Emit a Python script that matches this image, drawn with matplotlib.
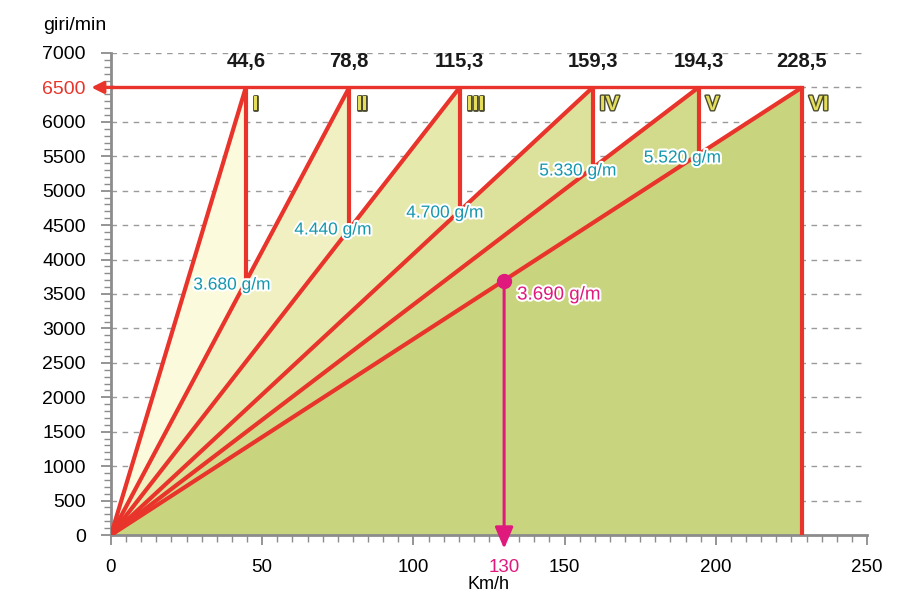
import matplotlib
matplotlib.use("Agg")
import matplotlib.pyplot as plt
import matplotlib.patheffects as pe
from matplotlib.ticker import MultipleLocator

# ---- data ----
gears = ["I", "II", "III", "IV", "V", "VI"]
shift_speed = [44.6, 78.8, 115.3, 159.3, 194.3, 228.5]   # km/h at 6500 rpm
speed_labels = ["44,6", "78,8", "115,3", "159,3", "194,3", "228,5"]
shift_rpm = 6500
drop_rpm = [3680, 4440, 4700, 5330, 5520]                 # rpm after upshift
drop_labels = ["3.680 g/m", "4.440 g/m", "4.700 g/m", "5.330 g/m", "5.520 g/m"]
example_speed = 130
example_rpm = 3690
example_label = "3.690 g/m"
x_ticks = [0, 50, 100, 130, 150, 200, 250]
y_ticks = list(range(0, 7001, 500))

band_colors = ["#fcfadc", "#f1f0c2", "#e6e9ac", "#dce29b", "#d2db8c", "#c8d57e"]
red = "#e8342a"
magenta = "#e0197d"
teal = "#1597ad"

plt.rcParams['font.family'] = ['Liberation Sans', 'DejaVu Sans']

fig = plt.figure(figsize=(9.17, 6.0), dpi=100)
ax = fig.add_axes([0.121, 0.1083, 0.8245, 0.8034])
ax.set_xlim(0, 250)
ax.set_ylim(0, 7000)

# bands
for i, v in enumerate(shift_speed):
    bottom = drop_rpm[i] if i < len(drop_rpm) else 0
    ax.fill([0, v, v], [0, shift_rpm, bottom], color=band_colors[i], lw=0, zorder=1)

# grid
for y in y_ticks[1:]:
    ax.plot([0, 250], [y, y], color="#9a9a9a", lw=1.0, ls=(0, (4, 4)), zorder=0.5)

# gear lines
lw = 3.0
for i, v in enumerate(shift_speed):
    ax.plot([0, v], [0, shift_rpm], color=red, lw=lw, zorder=3, solid_capstyle='butt')
    bottom = drop_rpm[i] if i < len(drop_rpm) else 0
    ax.plot([v, v], [shift_rpm, bottom], color=red, lw=lw, zorder=3, solid_capstyle='butt')

# horizontal 6500 line with arrow to axis
ax.plot([0, shift_speed[-1]], [shift_rpm, shift_rpm], color=red, lw=2.4, zorder=3)
ax.annotate("", xy=(-6.5, shift_rpm), xytext=(1, shift_rpm),
            arrowprops=dict(arrowstyle="-|>,head_length=0.7,head_width=0.35",
                            color=red, lw=2.4, shrinkA=0, shrinkB=0),
            annotation_clip=False, zorder=4)

# top speed labels and gear numerals
for i, v in enumerate(shift_speed):
    ax.text(v, 6870, speed_labels[i], ha="center", va="center", fontsize=14.5,
            fontweight="bold", color="#1a1a1a", zorder=5)
    ax.text(v + 2.3, 6250, gears[i], ha="left", va="center", fontsize=15,
            fontweight="bold", color="#e4de5a", zorder=5,
            path_effects=[pe.withStroke(linewidth=2.0, foreground="#4a4a30")])

# drop labels
drop_pos = [(40.0, 3630), (73.4, 4430), (110.4, 4676), (154.4, 5286), (189.0, 5475)]
for (x, y), lab in zip(drop_pos, drop_labels):
    ax.text(x, y, lab, ha="center", va="center", fontsize=12.5, color=teal, zorder=6,
            path_effects=[pe.withStroke(linewidth=3, foreground="white")])

# example point at 130 km/h
ax.annotate("", xy=(example_speed, -200), xytext=(example_speed, example_rpm),
            arrowprops=dict(arrowstyle="-|>,head_length=1.3,head_width=0.55",
                            color=magenta, lw=2.2, shrinkA=0, shrinkB=0),
            annotation_clip=False, zorder=6)
ax.plot([example_speed], [example_rpm], "o", color=magenta, ms=10, zorder=7)
ax.text(134.3, 3485, example_label, ha="left", va="center", fontsize=13.5,
        color=magenta, zorder=6,
        path_effects=[pe.withStroke(linewidth=3, foreground="white")])

# axes styling
for s in ["top", "right"]:
    ax.spines[s].set_visible(False)
for s in ["left", "bottom"]:
    ax.spines[s].set_color("#8c8c8c")
    ax.spines[s].set_linewidth(2)
    ax.spines[s].set_zorder(2)

ax.set_xticks(x_ticks)
ax.set_xticklabels([str(t) for t in x_ticks])
ax.xaxis.set_minor_locator(MultipleLocator(5))
ax.set_yticks(y_ticks)
ax.set_yticklabels([str(t) for t in y_ticks])
ax.yaxis.set_minor_locator(MultipleLocator(100))
ax.tick_params(axis="both", which="major", length=7, width=1.3, color="#8c8c8c",
               direction="out")
ax.tick_params(axis="both", which="minor", length=5, width=1.0, color="#8c8c8c",
               direction="out")
ax.tick_params(axis="x", pad=10, labelsize=13.5)
ax.tick_params(axis="y", pad=11, labelsize=14)
for lab in ax.get_xticklabels():
    if lab.get_text() == "130":
        lab.set_color(magenta)
for lab in ax.get_yticklabels():
    if lab.get_text() == "6500":
        lab.set_color(red)
for t in ax.xaxis.get_major_ticks():
    if abs(t.get_loc() - 130) < 1e-6:
        t.tick1line.set_visible(False)

ax.set_xlabel("Km/h", fontsize=13, labelpad=0)
fig.text(0.047, 0.957, "giri/min", fontsize=14, ha="left", va="center")

fig.savefig("out.png", dpi=100)
